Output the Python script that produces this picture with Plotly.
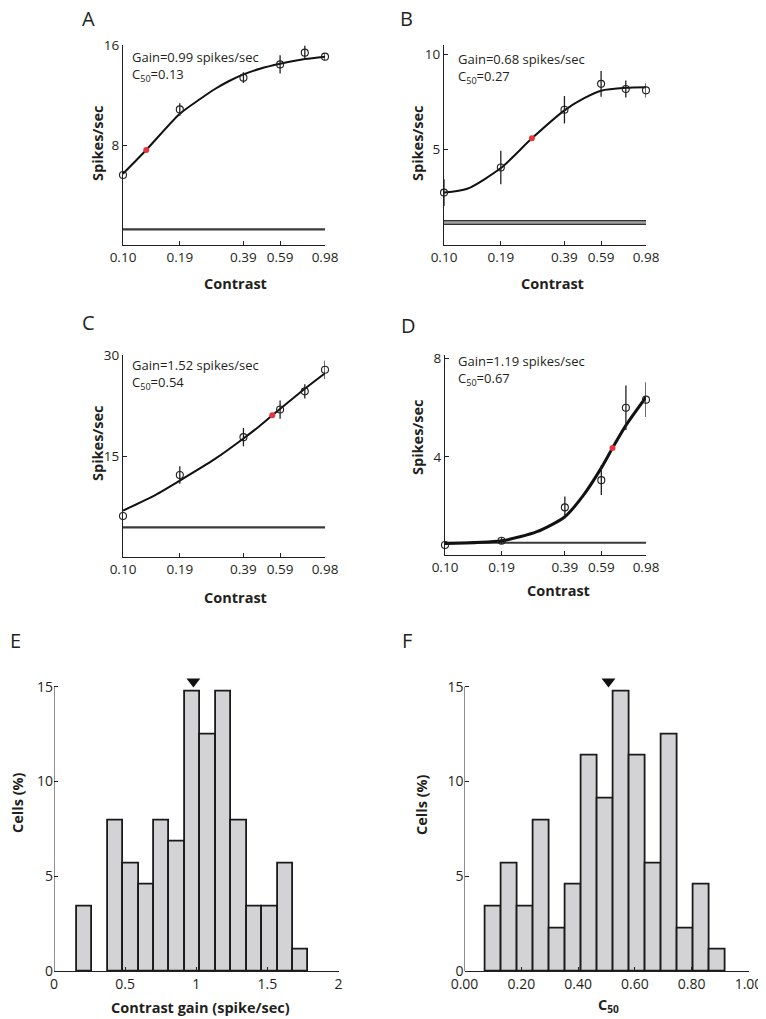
import plotly.graph_objects as go

# The page body keeps the browser's default 8px margin, so the figure starts
# 8px in from the top-left corner; reference pixel positions are shifted by 8px.
REF_W, REF_H = 766, 1019
OFF = 8
W, H = REF_W - OFF, REF_H - OFF
FONT = "Open Sans"
INK = "#231f20"

# ---------------- data: contrast response panels ----------------
contrast = [0.10, 0.19, 0.39, 0.59, 0.78, 0.98]
contrast_ticks = [0.10, 0.19, 0.39, 0.59, 0.98]
contrast_ticktext = ["0.10", "0.19", "0.39", "0.59", "0.98"]

a_resp = [5.6, 10.85, 13.39, 14.45, 15.39, 15.07]
a_err = [0.0, 0.5, 0.43, 0.73, 0.56, 0.3]
a_fit_c = [0.10, 0.13, 0.19, 0.24, 0.284, 0.33, 0.39, 0.47, 0.59, 0.78, 0.98]
a_fit_r = [5.7, 7.6, 10.5, 11.7, 12.5, 13.1, 13.65, 14.1, 14.5, 14.88, 15.07]
a_c50 = [0.13]
a_c50_r = [7.6]
a_base = 1.25

b_resp = [2.75, 4.07, 7.1, 8.46, 8.19, 8.12]
b_err = [0.7, 0.88, 0.72, 0.68, 0.44, 0.37]
b_fit_c = [0.10, 0.13, 0.19, 0.27, 0.39, 0.49, 0.59, 0.78, 0.98]
b_fit_r = [2.75, 2.95, 4.04, 5.6, 7.07, 7.72, 8.1, 8.25, 8.28]
b_c50 = [0.27]
b_c50_r = [5.6]
b_base = 1.18

c_resp = [6.09, 12.18, 17.8, 21.9, 24.6, 27.8]
c_err = [0.0, 1.3, 1.36, 1.36, 1.07, 1.36]
c_fit_c = [0.10, 0.14, 0.19, 0.284, 0.39, 0.47, 0.54, 0.66, 0.78, 0.98]
c_fit_r = [6.9, 9.0, 11.35, 14.6, 17.6, 19.5, 21.05, 23.2, 25.0, 27.3]
c_c50 = [0.54]
c_c50_r = [21.05]
c_base = 4.4

d_resp = [0.41, 0.58, 1.94, 3.05, 6.0, 6.33]
d_err = [0.0, 0.13, 0.44, 0.61, 0.91, 0.71]
d_fit_c = [0.10, 0.19, 0.284, 0.39, 0.483, 0.59, 0.67, 0.78, 0.98]
d_fit_r = [0.47, 0.58, 0.95, 1.56, 2.45, 3.55, 4.36, 5.28, 6.43]
d_c50 = [0.67]
d_c50_r = [4.36]
d_base = 0.5

# ---------------- data: histograms ----------------
gain_bin_start = 0.16
gain_bin_width = 0.1086
gain_pct = [3.41, 0, 7.95, 5.68, 4.55, 7.95, 6.82, 14.77, 12.5, 14.77, 7.95, 3.41, 3.41, 5.68, 1.14]
gain_median = 0.98

c50_bin_start = 0.075
c50_bin_width = 0.0563
c50_pct = [3.41, 5.68, 3.41, 7.95, 2.27, 4.55, 11.36, 9.09, 14.77, 11.36, 5.68, 12.5, 2.27, 4.55, 1.14]
c50_median = 0.507

# ---------------- layout helpers (arguments in reference pixels) ----------------
def dx(l, r):
    return [(l - OFF) / W, (r - OFF) / W]

def dy(top, bottom):
    return [1 - (bottom - OFF) / H, 1 - (top - OFF) / H]

fig = go.Figure()
layout = dict(
    width=W, height=H, margin=dict(l=0, r=0, t=0, b=0, pad=0, autoexpand=False),
    paper_bgcolor="white", plot_bgcolor="white", showlegend=False,
    font=dict(family=FONT, color=INK, size=13),
)

panels = [
    dict(resp=a_resp, err=a_err, fc=a_fit_c, fr=a_fit_r, c50=a_c50, c50r=a_c50_r, base=a_base,
         xd=(123, 325), yd=(45, 245), yr=[0, 16], yt=[8, 16], lw=2.0,
         gain="Gain=0.99 spikes/sec", c50t="C<sub>50</sub>=0.13", txt=(130, 57),
         ylab=(97, 143), xlab=(235, 283), letter="A", lpos=(88, 19), band=False),
    dict(resp=b_resp, err=b_err, fc=b_fit_c, fr=b_fit_r, c50=b_c50, c50r=b_c50_r, base=b_base,
         xd=(444, 646), yd=(45, 245), yr=[0, 10.5], yt=[5, 10], lw=2.0,
         gain="Gain=0.68 spikes/sec", c50t="C<sub>50</sub>=0.27", txt=(456, 59),
         ylab=(417, 143), xlab=(552, 283), letter="B", lpos=(406, 19), band=True),
    dict(resp=c_resp, err=c_err, fc=c_fit_c, fr=c_fit_r, c50=c_c50, c50r=c_c50_r, base=c_base,
         xd=(123, 325), yd=(355, 557), yr=[0, 30], yt=[15, 30], lw=2.0,
         gain="Gain=1.52 spikes/sec", c50t="C<sub>50</sub>=0.54", txt=(130, 365),
         ylab=(97, 443), xlab=(235, 597), letter="C", lpos=(88, 322), band=False),
    dict(resp=d_resp, err=d_err, fc=d_fit_c, fr=d_fit_r, c50=d_c50, c50r=d_c50_r, base=d_base,
         xd=(445, 646), yd=(355, 555), yr=[0, 8.15], yt=[4, 8], lw=3.0,
         gain="Gain=1.19 spikes/sec", c50t="C<sub>50</sub>=0.67", txt=(456, 361),
         ylab=(417, 437), xlab=(558, 590), letter="D", lpos=(408, 325), band=False),
]

annotations = []

def add_text(x, y, text, size, bold=False, angle=0, xanchor="center"):
    annotations.append(dict(
        x=(x - OFF) / W, y=1 - (y - OFF) / H, xref="paper", yref="paper",
        text=("<b>%s</b>" % text) if bold else text,
        showarrow=False, xanchor=xanchor, yanchor="middle", textangle=angle,
        font=dict(family=FONT, size=size, color=INK),
    ))

for i, p in enumerate(panels, start=1):
    xa = "xaxis" if i == 1 else "xaxis%d" % i
    ya = "yaxis" if i == 1 else "yaxis%d" % i
    xr = "x" if i == 1 else "x%d" % i
    yr_ = "y" if i == 1 else "y%d" % i
    layout[xa] = dict(
        domain=dx(*p["xd"]), anchor=yr_, type="log", range=[-1, -0.00877],
        tickvals=contrast_ticks, ticktext=contrast_ticktext, ticks="inside", ticklen=4,
        tickcolor=INK, showline=True, linecolor=INK, linewidth=1, showgrid=False,
        zeroline=False, tickfont=dict(size=13.5, family=FONT, color=INK),
    )
    layout[ya] = dict(
        domain=dy(*p["yd"]), anchor=xr, range=p["yr"], tickvals=p["yt"],
        ticks="inside", ticklen=4, tickcolor=INK, showline=True, linecolor=INK,
        linewidth=1, showgrid=False, zeroline=False,
        tickfont=dict(size=13.5, family=FONT, color=INK),
    )
    base_x = [contrast[0], contrast[-1]]
    base_y = [p["base"], p["base"]]
    if p["band"]:
        fig.add_trace(go.Scatter(x=base_x, y=base_y, mode="lines",
                                 line=dict(color="#333333", width=5), xaxis=xr, yaxis=yr_, hoverinfo="skip"))
        fig.add_trace(go.Scatter(x=base_x, y=base_y, mode="lines",
                                 line=dict(color="#a0a0a0", width=2.6), xaxis=xr, yaxis=yr_, hoverinfo="skip"))
    else:
        fig.add_trace(go.Scatter(x=base_x, y=base_y, mode="lines",
                                 line=dict(color="#3a3a3a", width=2.2), xaxis=xr, yaxis=yr_, hoverinfo="skip"))
    fig.add_trace(go.Scatter(x=p["fc"], y=p["fr"], mode="lines",
                             line=dict(color="#111111", width=p["lw"], shape="spline", smoothing=0.7),
                             xaxis=xr, yaxis=yr_, cliponaxis=False))
    fig.add_trace(go.Scatter(
        x=contrast, y=p["resp"], mode="markers",
        marker=dict(symbol="circle-open", size=7, color=INK, line=dict(width=1.1, color=INK)),
        error_y=dict(type="data", array=p["err"], visible=True, width=0, thickness=1.3, color=INK),
        xaxis=xr, yaxis=yr_, cliponaxis=False))
    fig.add_trace(go.Scatter(x=p["c50"], y=p["c50r"], mode="markers",
                             marker=dict(symbol="circle", size=6, color="#e8343a"),
                             xaxis=xr, yaxis=yr_, cliponaxis=False))
    add_text(p["txt"][0], p["txt"][1], p["gain"], 13, xanchor="left")
    add_text(p["txt"][0], p["txt"][1] + 18, p["c50t"], 13, xanchor="left")
    add_text(p["ylab"][0], p["ylab"][1], "Spikes/sec", 14.5, bold=True, angle=-90)
    add_text(p["xlab"][0], p["xlab"][1], "Contrast", 14.5, bold=True)
    add_text(p["lpos"][0], p["lpos"][1], p["letter"], 20)

# ---------------- histograms ----------------
hists = [
    dict(start=gain_bin_start, w=gain_bin_width, pct=gain_pct, med=gain_median,
         xd=(54, 338.5), xr=[0, 2], xt=[0, 0.5, 1, 1.5, 2], xtt=["0", "0.5", "1", "1.5", "2"],
         ylab=(17, 803), xlab=(200, 1007), xtitle="Contrast gain (spike/sec)",
         letter="E", lpos=(15, 640)),
    dict(start=c50_bin_start, w=c50_bin_width, pct=c50_pct, med=c50_median,
         xd=(464.5, 748.5), xr=[0, 1], xt=[0, 0.2, 0.4, 0.6, 0.8, 1.0],
         xtt=["0.00", "0.20", "0.40", "0.60", "0.80", "1.00"],
         ylab=(421, 805), xlab=(608, 1005), xtitle="C<sub>50</sub>",
         letter="F", lpos=(407, 640)),
]

Y_TOP_PCT = 15.0
Y_EXT_PCT = 15.7
px_per_pct = (971 - 686.7) / Y_TOP_PCT
hist_top_px = 971 - Y_EXT_PCT * px_per_pct

for j, hst in enumerate(hists, start=5):
    xa, ya = "xaxis%d" % j, "yaxis%d" % j
    xr, yr_ = "x%d" % j, "y%d" % j
    centers = [hst["start"] + hst["w"] * (k + 0.5) for k in range(len(hst["pct"]))]
    line_w = [1.8 if v > 0 else 0 for v in hst["pct"]]
    fig.add_trace(go.Bar(x=centers, y=hst["pct"], width=hst["w"],
                         marker=dict(color="#d3d3d5", line=dict(color="#1a1a1a", width=line_w)),
                         xaxis=xr, yaxis=yr_))
    # y-axis line drawn only up to 15 %
    fig.add_trace(go.Scatter(x=[0, 0], y=[0, Y_TOP_PCT], mode="lines",
                             line=dict(color=INK, width=1), xaxis=xr, yaxis=yr_,
                             cliponaxis=False, hoverinfo="skip"))
    fig.add_trace(go.Scatter(x=[hst["med"]], y=[15.28], mode="markers",
                             marker=dict(symbol="triangle-down", size=12, color="#111111"),
                             xaxis=xr, yaxis=yr_, cliponaxis=False))
    layout[xa] = dict(domain=dx(*hst["xd"]), anchor=yr_, range=hst["xr"], tickvals=hst["xt"],
                      ticktext=hst["xtt"], ticks="inside", ticklen=4, tickcolor=INK, showline=True,
                      linecolor=INK, linewidth=1, showgrid=False, zeroline=False,
                      ticklabeloverflow="allow",
                      tickfont=dict(size=14, family=FONT, color=INK))
    layout[ya] = dict(domain=dy(hist_top_px, 971), anchor=xr, range=[0, Y_EXT_PCT],
                      tickvals=[0, 5, 10, 15],
                      ticks="inside", ticklen=4, tickcolor=INK, showline=False,
                      showgrid=False, zeroline=False,
                      tickfont=dict(size=14, family=FONT, color=INK))
    add_text(hst["ylab"][0], hst["ylab"][1], "Cells (%)", 14.5, bold=True, angle=-90)
    add_text(hst["xlab"][0], hst["xlab"][1], hst["xtitle"], 14.5, bold=True)
    add_text(hst["lpos"][0], hst["lpos"][1], hst["letter"], 20)

layout["annotations"] = annotations
layout["bargap"] = 0
fig.update_layout(**layout)
fig.write_html("out.html")
